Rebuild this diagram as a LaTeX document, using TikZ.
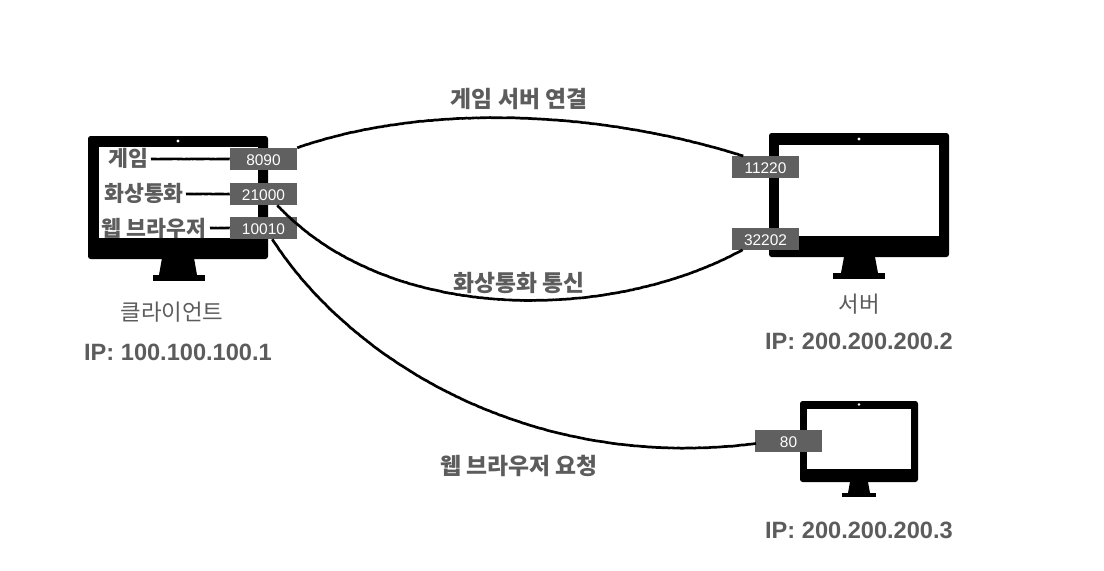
\documentclass[tikz,border=0pt]{standalone}
\usepackage{fontspec}
\usetikzlibrary{decorations.pathmorphing}
\setmainfont{Liberation Sans}
\newfontfamily\krfont{Noto Sans CJK KR}
\definecolor{labelgray}{RGB}{92,92,92}
\definecolor{portgray}{RGB}{96,96,96}

\begin{document}
\begin{tikzpicture}[x=0.75pt, y=-0.75pt,
    bezel/.style={rectangle, fill=black, rounded corners=2pt, inner sep=0pt},
    screen/.style={rectangle, fill=white, inner sep=0pt},
    camdot/.style={circle, fill=white, inner sep=0pt, minimum size=2.5pt},
    stand/.style={rectangle, fill=black, inner sep=0pt},
    port/.style={rectangle, fill=portgray, text=white, inner sep=0pt, minimum width=50.25pt, minimum height=16.5pt, text height=10pt, font=\fontsize{11.6}{13}\selectfont},
    app/.style={text=labelgray, inner sep=0pt, font=\krfont\bfseries\fontsize{16.2}{18}\selectfont},
    caption/.style={text=labelgray, inner sep=0pt, font=\krfont\fontsize{16.8}{20}\selectfont},
    link/.style={text=labelgray, inner sep=0pt, font=\krfont\bfseries\fontsize{17.1}{20}\selectfont},
    address/.style={text=labelgray, inner sep=0pt, font=\bfseries\fontsize{17.7}{20}\selectfont},
    wire/.style={draw=black, line width=2pt, decorate, decoration={random steps, segment length=1.5pt, amplitude=0.12pt}}]

\useasboundingbox (0,0) rectangle (1104,571);

% client
\node [bezel, minimum width=135pt, minimum height=92.25pt] (client) at (178,197.5) {};
\node [screen, minimum width=119.25pt, minimum height=68.25pt] (clientscreen) at (178.5,192.5) {};
\node [camdot] (clientcam) at (178,141) {};
\fill (162,258) -- (194,258) -- (197,275) -- (159,275) -- cycle;
\node [stand, minimum width=39pt, minimum height=4.5pt] (clientbase) at (179,278) {};

% server
\node [bezel, minimum width=135pt, minimum height=93pt] (server) at (859,195) {};
\node [screen, minimum width=120pt, minimum height=68.25pt] (serverscreen) at (859,190.5) {};
\node [camdot] (servercam) at (859,139) {};
\fill (844,257) -- (875,257) -- (878,273) -- (841,273) -- cycle;
\node [stand, minimum width=39pt, minimum height=4.5pt] (serverbase) at (859,276) {};

% web server
\node [bezel, minimum width=88.5pt, minimum height=60.75pt] (web) at (859,441.5) {};
\node [screen, minimum width=78pt, minimum height=45pt] (webscreen) at (859,439) {};
\node [camdot, minimum size=2pt] (webcam) at (859,404.5) {};
\fill (850,482) -- (868,482) -- (870,493) -- (848,493) -- cycle;
\node [stand, minimum width=25.5pt, minimum height=3pt] (webbase) at (859,495) {};

% ports
\node [port] (p8090) at (263.5,159) {8090};
\node [port] (p21000) at (263.5,194) {21000};
\node [port] (p10010) at (263.5,228) {10010};
\node [port] (p11220) at (765.5,167) {11220};
\node [port] (p32202) at (765.5,239) {32202};
\node [port] (p80) at (788.5,441) {80};

% apps
\node [app] (game) at (128,158) {게임};
\node [app] (video) at (144,193) {화상통화};
\node [app] (browser) at (154,228) {웹 브라우저};

\coordinate (gamestart) at (151,159);
\coordinate (videostart) at (186,194);
\coordinate (browserstart) at (210,228);
\draw [wire] (gamestart) -- (p8090.west);
\draw [wire] (videostart) -- (p21000.west);
\draw [wire] (browserstart) -- (p10010.west);

% connections
\draw [wire] (p8090.north east) .. controls (420,105) and (590,108) .. ([xshift=8pt]p11220.north west);
\draw [wire] ([xshift=-15pt]p21000.south east) .. controls (390,325) and (610,322) .. ([xshift=7.5pt]p32202.south west);
\draw [wire] ([xshift=-18.75pt]p10010.south east) .. controls (350,360) and (530,472) .. ([yshift=-2pt]p80.west);

% captions
\node [caption] (clientname) at (172,312) {클라이언트};
\node [address] (clientip) at (178,352) {IP: 100.100.100.1};
\node [caption] (servername) at (859,304) {서버};
\node [address] (serverip) at (859,341) {IP: 200.200.200.2};
\node [address] (webip) at (859,530) {IP: 200.200.200.3};
\node [link] (gamelink) at (519,99) {게임 서버 연결};
\node [link] (videolink) at (519,283) {화상통화 통신};
\node [link] (browserlink) at (519,466) {웹 브라우저 요청};

\end{tikzpicture}
\end{document}
